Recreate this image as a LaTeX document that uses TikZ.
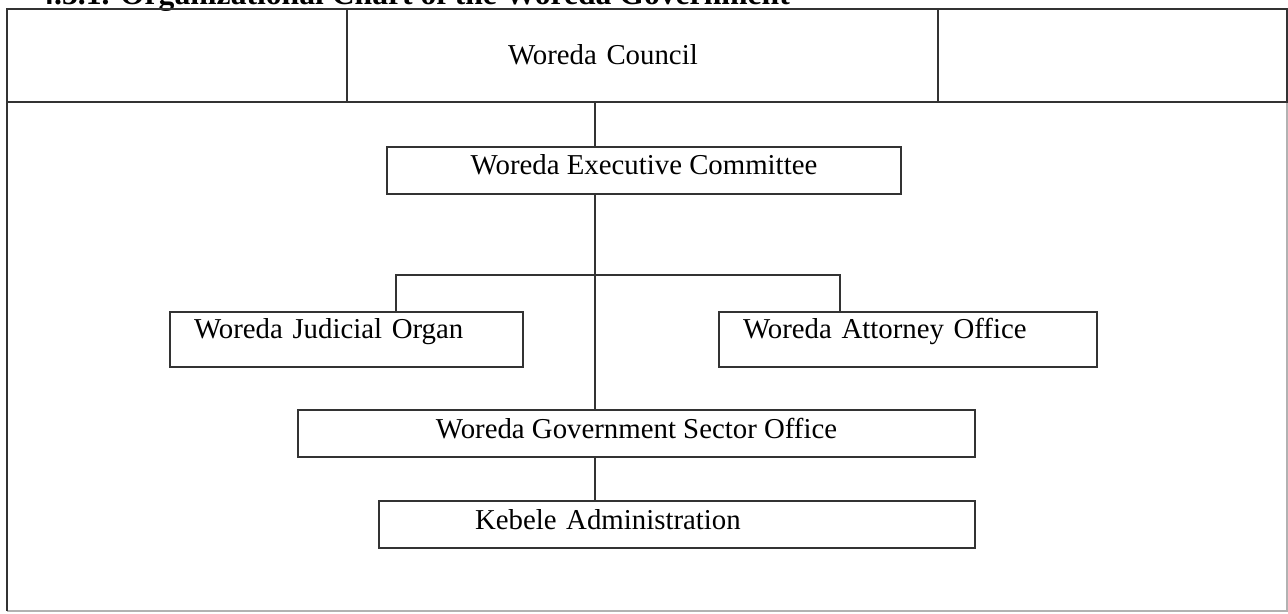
\documentclass[tikz,border=0pt]{standalone}
\usepackage{fontspec}
\setmainfont{Liberation Serif}
\usetikzlibrary{positioning}
\definecolor{darkline}{rgb}{0.2, 0.2, 0.2}
\definecolor{lightline}{rgb}{0.7, 0.7, 0.7}

\begin{document}
\begin{tikzpicture}
    % Stili per i riquadri
    \tikzset{
        org_box/.style={
            draw=darkline, % Bordo
            line width=0.7pt,
            minimum height=0.94cm, % Altezza del riquadro
            inner ysep=0pt,
            outer sep=0pt, % Niente spazio extra
            text height=0.40cm,
            text depth=0.22cm,
            align=center, % Testo al centro
            font=\fontsize{16.4}{20}\selectfont
        },
        side_box/.style={
            org_box,
            minimum height=1.10cm,
            text depth=0.44cm,
            align=left, % Testo a sinistra
            inner xsep=0.48cm
        },
        council_cell/.style={
            org_box,
            minimum height=1.86cm,
            text depth=0.02cm
        },
        link/.style={draw=darkline, line width=0.7pt}
    }

    \useasboundingbox (0,0) rectangle (25.76,-12.28);
    \clip (0,0) rectangle (25.76,-12.28);

    % Titolo (tagliato in alto)
    \node[anchor=base west, inner sep=0pt, font=\fontsize{18}{20}\selectfont\bfseries] (title) at (0.76,-0.10) {4.3.1. Organizational Chart of the Woreda Government};

    % Cornice
    \draw[lightline, line width=0.7pt] (0.14,-12.22) -- (25.74,-12.22) -- (25.74,-0.18);
    \draw[darkline, line width=0.7pt] (0.14,-0.18) -- (0.14,-12.22);

    % Riga del consiglio
    \node[council_cell, minimum width=6.80cm] (council_left) at (3.54,-1.11) {};
    \node[council_cell, text width=5.38cm, inner xsep=3.22cm, align=left] (council) at (12.85,-1.11) {Woreda Council};
    \node[council_cell, minimum width=6.98cm] (council_right) at (22.25,-1.11) {};

    % Riquadri
    \node[org_box, minimum width=10.28cm] (exec_committee) at (12.88,-3.41) {Woreda Executive Committee};
    \node[side_box, text width=6.10cm] (judicial_organ) at (6.93,-6.79) {Woreda Judicial Organ};
    \node[side_box, text width=6.60cm] (attorney_office) at (18.16,-6.79) {Woreda Attorney Office};
    \node[org_box, minimum width=13.54cm] (sector_office) at (12.73,-8.67) {Woreda Government Sector Office};
    \node[org_box, text width=8.08cm, inner xsep=1.92cm, align=left] (kebele_admin) at (13.54,-10.49) {Kebele Administration};

    % Linee di collegamento
    \coordinate (spine) at (11.90,-5.50);
    \draw[link] (council.south -| spine) -- (exec_committee.north -| spine);
    \draw[link] (exec_committee.south -| spine) -- (sector_office.north -| spine);
    \draw[link] ([xshift=0.99cm]judicial_organ.north) |- (spine) -| ([xshift=-1.36cm]attorney_office.north);
    \draw[link] (sector_office.south -| spine) -- (kebele_admin.north -| spine);

\end{tikzpicture}
\end{document}
